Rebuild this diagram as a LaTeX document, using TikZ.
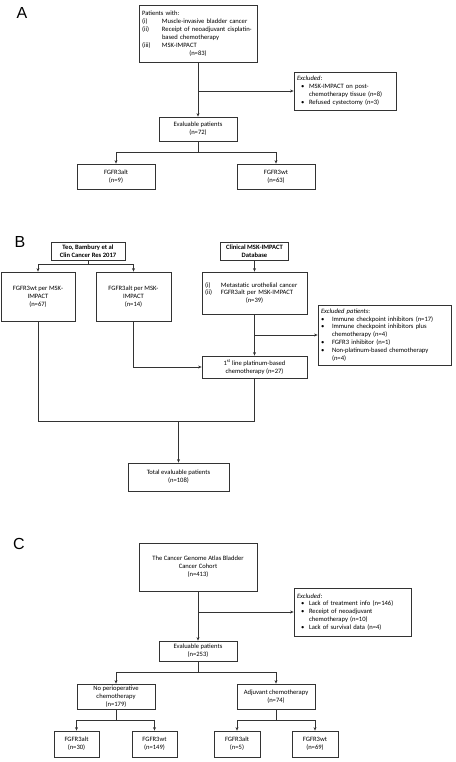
\documentclass[tikz,border=0pt]{standalone}
\usepackage{fontspec}
\setmainfont{Carlito}
\newfontfamily\panelfont{Liberation Sans}
\usetikzlibrary{arrows.meta}
\newcommand{\boxtxt}{\fontsize{6.6}{7.9}\selectfont}
\newcommand{\nitem}[2][20pt]{\makebox[#1][l]{#2}}
\newcommand{\bitem}[1][4pt]{\hspace*{#1}\makebox[8pt][l]{\textbullet}}
\newcommand{\bcont}[1][4pt]{\hspace*{#1}\hspace*{8pt}}

\begin{document}
\begin{tikzpicture}[x=1pt, y=-1pt,
	box/.style 2 args={draw=black!80, line width=0.8pt, inner sep=0pt, align=center,
		minimum width=#1pt, minimum height=#2pt, font=\boxtxt},
	lbox/.style 2 args={box={#1}{#2}, align=left, text width=#1pt-6pt},
	hdr/.style 2 args={box={#1}{#2}, font=\boxtxt\bfseries},
	panel/.style={font=\panelfont\fontsize{16}{16}\selectfont},
	arr/.style={draw=black!80, line width=0.8pt, -{Stealth[length=3.5pt,width=3pt]}},
	lnk/.style={draw=black!80, line width=0.8pt}]
\useasboundingbox (0,0) rectangle (455,762);

\node[panel] (labA) at (22,13) {A};
\node[lbox={118}{57}] (pA) at (198,33.5) {Patients with:\\
	\nitem{(i)}Muscle-invasive bladder cancer\\
	\nitem{(ii)}Receipt of neoadjuvant cisplatin-\\
	\nitem{}based chemotherapy\\
	\nitem{(iii)}MSK-IMPACT\\
	\makebox[\linewidth]{(n=83)}};
\node[lbox={102}{38}] (exA) at (345,91) {\textit{Excluded}:\\
	\bitem MSK-IMPACT on post-\\
	\bcont chemotherapy tissue (n=8)\\
	\bitem Refused cystectomy (n=3)};
\node[box={78}{24}] (evA) at (198,129) {Evaluable patients\\(n=72)};
\node[box={78}{25}] (altA) at (116,176.5) {FGFR3alt\\(n=9)};
\node[box={78}{25}] (wtA) at (276,176.5) {FGFR3wt\\(n=63)};

\draw[arr] (pA.south) -- (evA.north);
\draw[arr] (pA.south |- exA.west) -- (exA.west);
\draw[arr] (evA.south) -- ++(0,11) -| (altA.north);
\draw[arr] (evA.south) -- ++(0,11) -| (wtA.north);

\node[panel] (labB) at (20,242) {B};
\node[hdr={74}{18}] (teo) at (88,251) {Teo, Bambury et al\\Clin Cancer Res 2017};
\node[hdr={68}{18}] (clin) at (254.5,251) {Clinical MSK-IMPACT\\Database};
\node[box={74}{49}] (wtB) at (38,296.5) {FGFR3wt per MSK-\\IMPACT\\(n=67)};
\node[box={75}{49}] (altB) at (133.5,296.5) {FGFR3alt per MSK-\\IMPACT\\(n=14)};
\node[lbox={105}{42}] (metB) at (254.5,293) {\nitem[16pt]{(i)}Metastatic urothelial cancer\\
	\nitem[16pt]{(ii)}FGFR3alt per MSK-IMPACT\\
	\makebox[\linewidth]{(n=39)}};
\node[lbox={133}{60}] (exB) at (384.5,335) {\textit{Excluded patients}:\\
	\bitem[0pt]\hspace*{3pt}Immune checkpoint inhibitors (n=17)\\
	\bitem[0pt]\hspace*{3pt}Immune checkpoint inhibitors plus\\
	\bcont[3pt]chemotherapy (n=4)\\
	\bitem[0pt]\hspace*{3pt}FGFR3 inhibitor (n=1)\\
	\bitem[0pt]\hspace*{3pt}Non-platinum-based chemotherapy\\
	\bcont[3pt](n=4)};
\node[box={105}{22}] (lineB) at (254.5,367) {1\textsuperscript{st} line platinum-based\\chemotherapy (n=27)};
\node[box={101}{28}] (totB) at (178.5,477) {Total evaluable patients\\(n=108)};

\draw[arr] (teo.south) -- ++(0,3.5) -| (wtB.north);
\draw[arr] (teo.south) -- ++(0,3.5) -| (altB.north);
\draw[arr] (clin.south) -- (metB.north);
\draw[arr] (metB.south) -- (lineB.north);
\draw[arr] (metB.south |- exB.west) -- (exB.west);
\draw[arr] (altB.south) |- (lineB.west);
\draw[lnk] (wtB.south) -- ++(0,100) coordinate (jB) -| (lineB.south);
\draw[arr] (jB -| totB.north) -- (totB.north);

\node[panel] (labC) at (19,544) {C};
\node[box={118}{48}] (tcga) at (198,567) {The Cancer Genome Atlas Bladder\\Cancer Cohort\\(n=413)};
\node[lbox={117}{48}] (exC) at (352.5,612) {\textit{Excluded}:\\
	\bitem Lack of treatment info (n=146)\\
	\bitem Receipt of neoadjuvant\\
	\bcont chemotherapy (n=10)\\
	\bitem Lack of survival data (n=4)};
\node[box={78}{20}] (evC) at (198,651) {Evaluable patients\\(n=253)};
\node[box={78}{25}] (noC) at (116,696.5) {No perioperative\\chemotherapy\\(n=179)};
\node[box={78}{25}] (adjC) at (276,696.5) {Adjuvant chemotherapy\\(n=74)};
\node[box={45}{26}] (altC1) at (76.5,744) {FGFR3alt\\(n=30)};
\node[box={45}{26}] (wtC1) at (154.5,744) {FGFR3wt\\(n=149)};
\node[box={46}{26}] (altC2) at (237,744) {FGFR3alt\\(n=5)};
\node[box={46}{26}] (wtC2) at (315,744) {FGFR3wt\\(n=69)};

\draw[arr] (tcga.south) -- (evC.north);
\draw[arr] (tcga.south |- exC.west) -- (exC.west);
\draw[arr] (evC.south) -- ++(0,11) -| (noC.north);
\draw[arr] (evC.south) -- ++(0,11) -| (adjC.north);
\draw[arr] (noC.south) -- ++(0,11) -| (altC1.north);
\draw[arr] (noC.south) -- ++(0,11) -| (wtC1.north);
\draw[arr] (adjC.south) -- ++(0,11) -| (altC2.north);
\draw[arr] (adjC.south) -- ++(0,11) -| (wtC2.north);
\end{tikzpicture}
\end{document}
